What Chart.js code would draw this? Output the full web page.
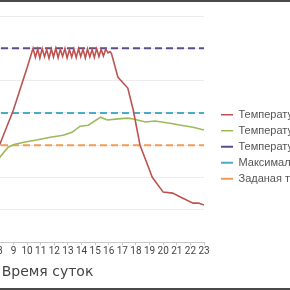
<!DOCTYPE html>
<html>
<head>
<meta charset="utf-8">
<script src="https://cdn.jsdelivr.net/npm/chart.js@4"></script>
<style>
  html, body { margin: 0; padding: 0; background: #fff; }
  body { width: 290px; height: 290px; overflow: hidden; position: relative; }
  #wrap { position: absolute; left: -129px; top: 0; width: 465px; height: 290px; }
  .frame { position: absolute; left: 0; width: 290px; background: #4a4a4a; }
</style>
</head>
<body>
<div id="wrap"><canvas id="chart"></canvas></div>
<div class="frame" style="top:0;height:2px"></div>
<div class="frame" style="top:288px;height:2px"></div>
<script>
// ---------- данные ----------
const redHours = [7, 8, 9, 10,
  10.44, 10.61, 10.78, 10.94, 11.11, 11.28, 11.44, 11.61, 11.78, 11.94,
  12.11, 12.28, 12.44, 12.61, 12.78, 12.94, 13.11, 13.28, 13.44, 13.61,
  13.78, 13.94, 14.11, 14.28, 14.44, 14.61, 14.78, 14.94, 15.11, 15.28,
  15.44, 15.61, 15.78,
  15.95, 16.1, 16.2,
  16.68, 17.4, 17.8, 18.3, 19.2, 20.0, 20.7, 21.3, 22.2, 22.6, 23];
const redValues = [20, 30.3, 41, 54,
  60, 57.2, 59.8, 57.0, 59.9, 57.4, 59.6, 56.9, 59.8, 57.3,
  60, 57.1, 59.7, 57.5, 59.9, 57.0, 59.6, 57.3, 59.8, 57.1,
  59.9, 57.4, 59.7, 57.0, 59.8, 57.3, 59.6, 57.2, 59.9, 57.4,
  59.7, 57.6, 59.8,
  58.6, 59.0, 58.4,
  51, 47.7, 40.9, 30, 20.1, 15.5, 15.2, 13.9, 12.1, 12.1, 11.5];

const greenHours = [7.5, 8, 8.6, 9.1, 9.85, 10.7, 11.7, 12.65, 13.3, 13.9, 14.5,
  15.4, 15.9, 16.5, 17.4, 17.8, 18.7, 19.4, 20.5, 21.3, 22.2, 23];
const greenValues = [21, 26.3, 29.4, 30.3, 31, 31.6, 32.5, 33.1, 34, 35.9, 36.2,
  38.7, 37.8, 38.1, 38.4, 38.1, 37.2, 37.5, 36.8, 36.2, 35.6, 34.7];

const limitHours = [0, 23];
const cutoffValues = [60, 60];
const maxValues = [40, 40];
const setValues = [30, 30];

const labels = [
  'Температура нагревателя',
  'Температура в помещении',
  'Температура отключения',
  'Максимальная температура',
  'Заданая температура',
];

// ---------- helpers ----------
const pts = (xs, ys) => xs.map((x, i) => ({ x, y: ys[i] }));

function lineSet(label, xs, ys, color, width, dash) {
  return {
    label,
    data: pts(xs, ys),
    borderColor: color,
    backgroundColor: color,
    borderWidth: width,
    borderDash: dash || [],
    pointRadius: 0,
    tension: 0,
    fill: false,
  };
}

new Chart(document.getElementById('chart'), {
  type: 'line',
  data: {
    datasets: [
      lineSet(labels[0], redHours, redValues, '#bd5350', 1.6),
      lineSet(labels[1], greenHours, greenValues, '#9bbb59', 1.6),
      lineSet(labels[2], limitHours, cutoffValues, '#5c4d8a', 2, [7, 4]),
      lineSet(labels[3], limitHours, maxValues, '#4bacc6', 2, [7, 4]),
      lineSet(labels[4], limitHours, setValues, '#f59a52', 2, [7, 4]),
    ],
  },
  options: {
    responsive: true,
    maintainAspectRatio: false,
    animation: false,
    layout: { padding: { top: 16, left: 20, right: 0, bottom: 0 } },
    plugins: {
      tooltip: { enabled: false },
      legend: {
        position: 'right',
        fullSize: false,
        maxWidth: 120,
        // пустой заголовок только сдвигает пункты вниз
        title: { display: true, text: ' ', padding: { top: 11, bottom: 11 }, font: { size: 11 } },
        labels: {
          usePointStyle: true,
          pointStyle: 'line',
          pointStyleWidth: 12,
          padding: 5,
          color: '#555',
          font: { family: 'Liberation Sans', size: 11 },
        },
      },
    },
    scales: {
      x: {
        type: 'linear',
        min: 0,
        max: 23,
        grid: { drawOnChartArea: false, tickLength: 3, color: '#c8c8c8' },
        border: { color: '#c8c8c8' },
        ticks: {
          stepSize: 1,
          autoSkip: false,
          maxRotation: 0,
          padding: 0,
          color: '#444',
          font: { family: 'Roboto', size: 10 },
        },
        title: {
          display: true,
          text: 'Время суток',
          color: '#444',
          padding: { top: 7, bottom: 9 },
          font: { family: 'DejaVu Sans', size: 14 },
        },
      },
      y: {
        min: 0,
        max: 70,
        ticks: { display: false, stepSize: 10 },
        grid: { color: '#ececec', drawTicks: false },
        border: { display: false },
      },
      // пустая ось справа, отодвигает легенду от графика
      yGap: {
        position: 'right',
        ticks: { display: false },
        grid: { drawOnChartArea: false, drawTicks: true, tickLength: 12, color: 'rgba(0,0,0,0)' },
        border: { display: false },
      },
    },
  },
});
</script>
</body>
</html>
